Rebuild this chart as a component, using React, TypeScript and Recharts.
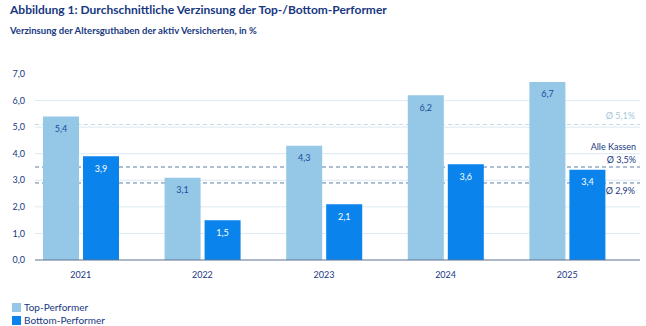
import { BarChart, Bar, XAxis, YAxis, CartesianGrid, ReferenceLine, LabelList } from 'recharts';

const years = ['2021', '2022', '2023', '2024', '2025'];
const topValues = [5.4, 3.1, 4.3, 6.2, 6.7];
const bottomValues = [3.9, 1.5, 2.1, 3.6, 3.4];
const yTicks = [0, 1, 2, 3, 4, 5, 6, 7];
const gridValues = [1, 2, 3, 4, 5, 6];
const avgTop = 5.1;
const avgAll = 3.5;
const avgBottom = 2.9;

const data = years.map((year, i) => ({ year, top: topValues[i], bottom: bottomValues[i] }));

const FONT = 'Lato, "Open Sans", sans-serif';
const NAVY = '#17387f';
const LIGHT = '#95c7e7';
const DARK = '#0a84ec';

const fmt = (v: number) => v.toFixed(1).replace('.', ',');

const AllLabel = (props: any) => {
  const { viewBox } = props;
  const x = viewBox.x + viewBox.width - 4;
  const y = viewBox.y;
  return (
    <g fontFamily={FONT} fontSize={9} textAnchor="end">
      <text x={x} y={y - 17} fill={NAVY}>Alle Kassen</text>
      <text x={x} y={y - 4} fill={NAVY}>Ø 3,5%</text>
    </g>
  );
};

const App = () => {
  return (
    <div style={{ position: 'absolute', left: 0, top: 0, width: 646, height: 326, background: '#fff', fontFamily: FONT }}>
      <div style={{ position: 'absolute', left: 10, top: 2, fontSize: 12, fontWeight: 700, color: NAVY }}>
        Abbildung 1: Durchschnittliche Verzinsung der Top-/Bottom-Performer
      </div>
      <div style={{ position: 'absolute', left: 10, top: 25, fontSize: 9.5, fontWeight: 700, color: NAVY }}>
        Verzinsung der Altersguthaben der aktiv Versicherten, in %
      </div>
      <div style={{ position: 'absolute', left: 0, top: 0 }}>
        <BarChart
          width={646}
          height={290}
          data={data}
          margin={{ top: 74, right: 6, bottom: 0, left: 0 }}
          barSize={36}
          barGap={4}
        >
          <CartesianGrid vertical={false} horizontalValues={gridValues} stroke="#dde9f1" />
          <CartesianGrid vertical={false} horizontalValues={[avgTop]} stroke="#c4dbea" strokeDasharray="4 3" />
          <CartesianGrid vertical={false} horizontalValues={[avgAll]} stroke="#5d7fa6" strokeDasharray="4 3" />
          <CartesianGrid vertical={false} horizontalValues={[avgBottom]} stroke="#5d7fa6" strokeDasharray="4 3" />
          <ReferenceLine
            y={avgTop}
            stroke="none"
            label={{ value: 'Ø 5,1%', position: 'insideBottomRight', fill: '#a6c6da', fontSize: 9, fontFamily: FONT, offset: 5 }}
          />
          <ReferenceLine y={avgAll} stroke="none" label={<AllLabel />} />
          <ReferenceLine
            y={avgBottom}
            stroke="none"
            label={{ value: 'Ø 2,9%', position: 'insideTopRight', fill: NAVY, fontSize: 9, fontFamily: FONT, offset: 5 }}
          />
          <XAxis
            dataKey="year"
            padding={{ left: -15, right: 12 }}
            axisLine={{ stroke: '#5c7190' }}
            tickLine={false}
            tick={{ fill: NAVY, fontSize: 9, fontFamily: FONT }}
            tickMargin={6}
            height={30}
          />
          <YAxis
            domain={[0, 7]}
            ticks={yTicks}
            tickFormatter={fmt}
            axisLine={false}
            tickLine={false}
            tickSize={0}
            tickMargin={10}
            width={35}
            tick={{ fill: NAVY, fontSize: 9, fontFamily: FONT }}
          />
          <Bar dataKey="top" fill={LIGHT} isAnimationActive={false}>
            <LabelList dataKey="top" position="insideTop" offset={9} formatter={(v: any) => fmt(Number(v))} fill="#1b4c9c" fontSize={9} fontFamily={FONT} />
          </Bar>
          <Bar dataKey="bottom" fill={DARK} isAnimationActive={false}>
            <LabelList dataKey="bottom" position="insideTop" offset={9} formatter={(v: any) => fmt(Number(v))} fill="#ffffff" fontSize={9} fontFamily={FONT} />
          </Bar>
        </BarChart>
      </div>
      <div style={{ position: 'absolute', left: 12, top: 301, fontSize: 10, color: NAVY, lineHeight: '13px' }}>
        <div style={{ display: 'flex', alignItems: 'center' }}>
          <span style={{ width: 9, height: 9, background: LIGHT, marginRight: 3, display: 'inline-block' }} />
          Top-Performer
        </div>
        <div style={{ display: 'flex', alignItems: 'center' }}>
          <span style={{ width: 9, height: 9, background: DARK, marginRight: 3, display: 'inline-block' }} />
          Bottom-Performer
        </div>
      </div>
    </div>
  );
};

export default App;
